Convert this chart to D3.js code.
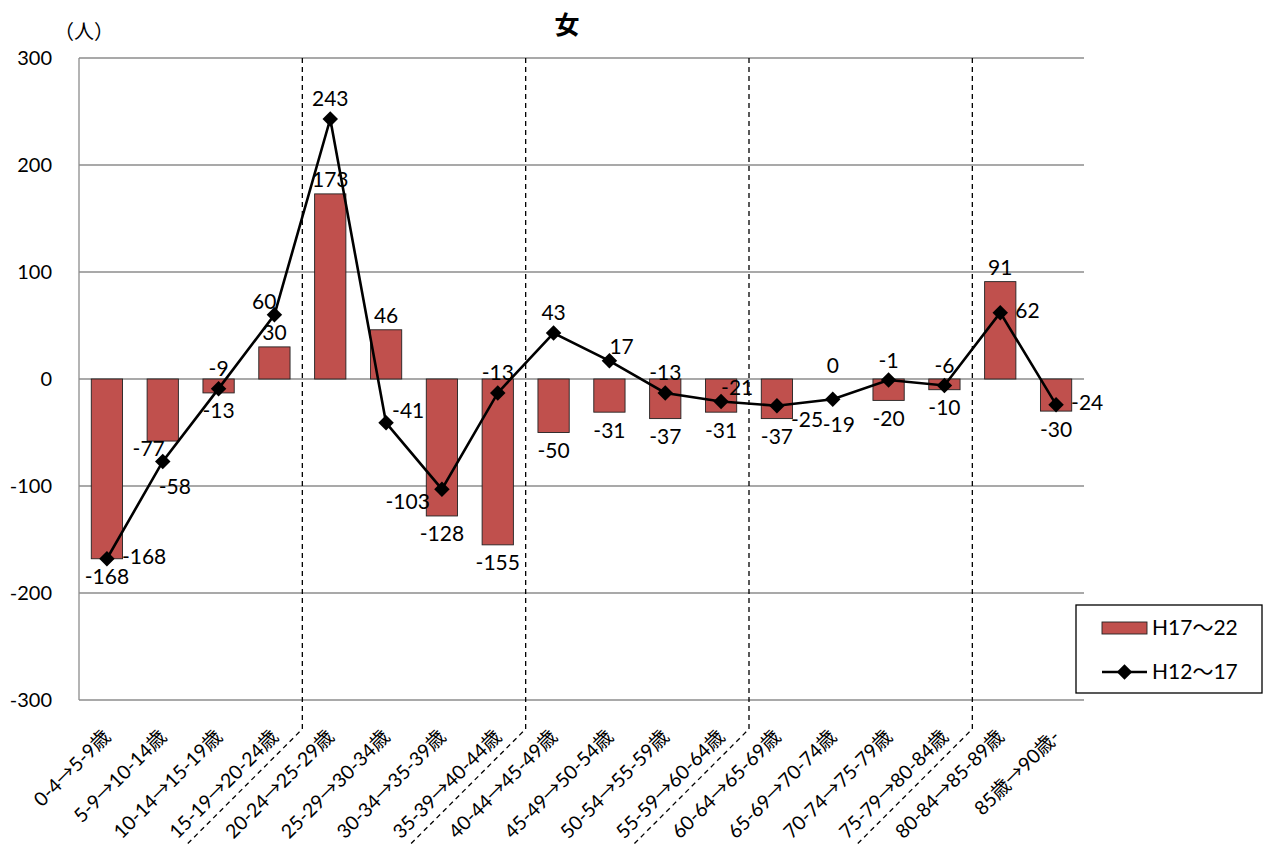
<!DOCTYPE html>
<html>
<head>
<meta charset="utf-8">
<script src="https://cdn.jsdelivr.net/npm/d3@7"></script>
<style>
  body { margin: 0; background: #fff; }
  text { font-family: Lato, 'Noto Sans CJK JP', sans-serif; fill: #000; }
  .cjk { font-family: 'Noto Sans CJK JP', sans-serif; }
</style>
</head>
<body>
<div id="chart"></div>
<script>
const categories = ['0-4→5-9歳', '5-9→10-14歳', '10-14→15-19歳', '15-19→20-24歳', '20-24→25-29歳',
    '25-29→30-34歳', '30-34→35-39歳', '35-39→40-44歳', '40-44→45-49歳', '45-49→50-54歳',
    '50-54→55-59歳', '55-59→60-64歳', '60-64→65-69歳', '65-69→70-74歳', '70-74→75-79歳',
    '75-79→80-84歳', '80-84→85-89歳', '85歳→90歳-'];
const h17to22 = [-168, -58, -13, 30, 173, 46, -128, -155, -50, -31, -37, -31, -37, 0, -20, -10, 91, -30];
const h12to17 = [-168, -77, -9, 60, 243, -41, -103, -13, 43, 17, -13, -21, -25, -19, -1, -6, 62, -24];
const yTicks = [-300, -200, -100, 0, 100, 200, 300];
const seriesNames = ['H17～22', 'H12～17'];
// dashed separators come after these category indices
const groupEnds = [3, 7, 11, 15];

// label placement (how the original labels were arranged)
const barLabelPos = ['out', 'belowRight', 'out', 'out', 'out', 'out', 'out', 'out', 'out',
    'out', 'out', 'out', 'out', 'out', 'out', 'out', 'out', 'out'];
const lineLabelPos = ['right', 'aboveLeft', 'above', 'aboveLeft', 'above', 'rightAbove', 'belowLeft', 'above', 'above',
    'aboveRight', 'above', 'aboveRight', 'rightBelow', 'below', 'above', 'above', 'right', 'right'];

const width = 1268, height = 846;
const plotLeft = 79, plotRight = 1084, plotTop = 58, plotBottom = 700;
const red = '#C0504D';

const svg = d3.select('#chart')
    .append('svg')
    .attr('width', width)
    .attr('height', height);

const x = d3.scaleBand()
    .domain(categories)
    .range([plotLeft, plotRight])
    .paddingInner(0.44)
    .paddingOuter(0.22);

const y = d3.scaleLinear()
    .domain([-300, 300])
    .range([plotBottom, plotTop]);

// grid
svg.append('g')
    .selectAll('line')
    .data(yTicks)
    .join('line')
    .attr('x1', plotLeft)
    .attr('x2', plotRight)
    .attr('y1', d => y(d))
    .attr('y2', d => y(d))
    .attr('stroke', '#8c8c8c')
    .attr('stroke-width', 1.3);

svg.append('line')
    .attr('x1', plotLeft).attr('x2', plotLeft)
    .attr('y1', y(300)).attr('y2', y(-300))
    .attr('stroke', '#8c8c8c')
    .attr('stroke-width', 1.3);

// y tick labels
svg.append('g')
    .selectAll('text')
    .data(yTicks)
    .join('text')
    .attr('x', plotLeft - 27)
    .attr('y', d => y(d))
    .attr('dy', '0.35em')
    .attr('text-anchor', 'end')
    .style('font-size', '20px')
    .text(d => d);

// bars
svg.append('g')
    .selectAll('rect')
    .data(h17to22)
    .join('rect')
    .attr('x', (d, i) => x(categories[i]))
    .attr('width', x.bandwidth())
    .attr('y', d => y(Math.max(0, d)))
    .attr('height', d => Math.abs(y(d) - y(0)))
    .attr('fill', red)
    .attr('stroke', '#222')
    .attr('stroke-width', 0.9);

// separators between age groups, running down into the tick labels
const sepX = i => (x(categories[i]) + x(categories[i + 1]) + x.bandwidth()) / 2;
svg.append('g')
    .selectAll('path')
    .data(groupEnds)
    .join('path')
    .attr('d', i => `M${sepX(i)},${plotTop}V729L${sepX(i) - (height - 729)},${height}`)
    .attr('fill', 'none')
    .attr('stroke', '#000')
    .attr('stroke-width', 1.3)
    .attr('stroke-dasharray', '5,4');

// line series
const cx = i => x(categories[i]) + x.bandwidth() / 2;
const line = d3.line()
    .x((d, i) => cx(i))
    .y(d => y(d));

svg.append('path')
    .datum(h12to17)
    .attr('d', line)
    .attr('fill', 'none')
    .attr('stroke', '#000')
    .attr('stroke-width', 2.6);

const diamond = d3.symbol(d3.symbolSquare, 120);
svg.append('g')
    .selectAll('path')
    .data(h12to17)
    .join('path')
    .attr('d', diamond)
    .attr('transform', (d, i) => `translate(${cx(i)},${y(d)}) rotate(45)`)
    .attr('fill', '#000');

// data labels
const offsets = {
    above: [0, -21, 'middle'],
    below: [6, 24, 'middle'],
    right: [15, -3, 'start'],
    rightAbove: [6, -13, 'start'],
    rightBelow: [14, 13, 'start'],
    aboveLeft: [2, -14, 'end'],
    aboveRight: [0, -15, 'start'],
    belowLeft: [-12, 11, 'end'],
    belowRight: [-4, 44, 'start']
};

function barOffset(d, i) {
    if (barLabelPos[i] !== 'out') return offsets[barLabelPos[i]];
    return d >= 0 ? [0, -15, 'middle'] : [0, 17, 'middle'];
}

svg.append('g')
    .selectAll('text')
    .data(h17to22)
    .join('text')
    .attr('x', (d, i) => cx(i) + barOffset(d, i)[0])
    .attr('y', (d, i) => y(d) + barOffset(d, i)[1])
    .attr('text-anchor', (d, i) => barOffset(d, i)[2])
    .attr('dominant-baseline', 'central')
    .style('font-size', '21px')
    .text(d => d);

svg.append('g')
    .selectAll('text')
    .data(h12to17)
    .join('text')
    .attr('x', (d, i) => cx(i) + offsets[lineLabelPos[i]][0])
    .attr('y', (d, i) => y(d) + offsets[lineLabelPos[i]][1])
    .attr('text-anchor', (d, i) => offsets[lineLabelPos[i]][2])
    .attr('dominant-baseline', 'central')
    .style('font-size', '21px')
    .text(d => d);

// category labels, slanted; the arrow uses the CJK font like the original
svg.append('g')
    .selectAll('text')
    .data(categories)
    .join('text')
    .attr('transform', d => `translate(${x(d) + x.bandwidth() / 2 + 5},738) rotate(-45)`)
    .attr('text-anchor', 'end')
    .style('font-size', '19.5px')
    .each(function (d) {
        const parts = d.split('→');
        const t = d3.select(this);
        t.append('tspan').text(parts[0]);
        t.append('tspan').attr('class', 'cjk').text('→');
        t.append('tspan').text(parts[1]);
    });

// title and unit
svg.append('text')
    .attr('x', 567)
    .attr('y', 25)
    .attr('dy', '0.35em')
    .attr('text-anchor', 'middle')
    .style('font-size', '25px')
    .style('font-weight', 'bold')
    .text('女');

svg.append('text')
    .attr('x', 54)
    .attr('y', 32)
    .attr('dy', '0.35em')
    .style('font-size', '20px')
    .text('（人）');

// legend
const lg = svg.append('g').attr('transform', 'translate(1076,605)');
lg.append('rect')
    .attr('width', 186)
    .attr('height', 88)
    .attr('fill', '#fff')
    .attr('stroke', '#000')
    .attr('stroke-width', 1.3);
lg.append('rect')
    .attr('x', 26).attr('y', 17)
    .attr('width', 45).attr('height', 12)
    .attr('fill', red)
    .attr('stroke', '#222')
    .attr('stroke-width', 0.9);
lg.append('line')
    .attr('x1', 26).attr('x2', 71)
    .attr('y1', 67).attr('y2', 67)
    .attr('stroke', '#000')
    .attr('stroke-width', 2.6);
lg.append('path')
    .attr('d', diamond)
    .attr('transform', 'translate(48.5,67) rotate(45)');
lg.selectAll('text.name')
    .data(seriesNames)
    .join('text')
    .attr('class', 'name')
    .attr('x', 76)
    .attr('y', (d, i) => 23 + i * 44)
    .attr('dy', '0.35em')
    .style('font-size', '21px')
    .text(d => d);
</script>
</body>
</html>
